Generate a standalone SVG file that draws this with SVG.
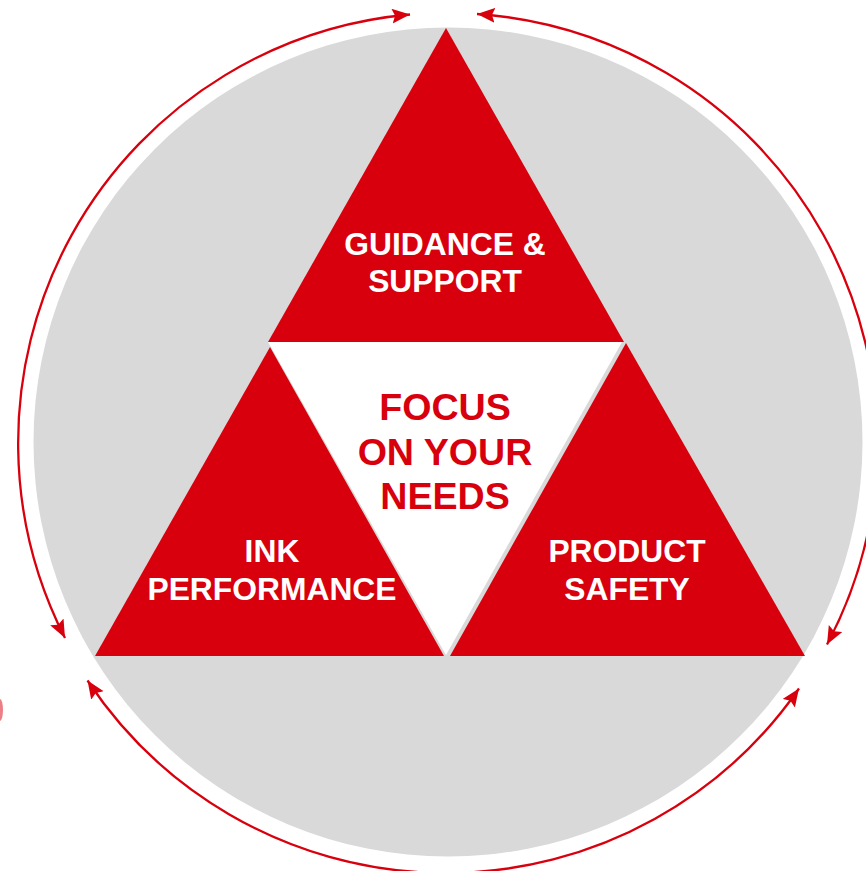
<svg xmlns="http://www.w3.org/2000/svg" width="866" height="871" viewBox="0 0 866 871">
  <style>
    .red { fill: #d9000d; }
    .lbl { font-family: "Liberation Sans", Arial, sans-serif; font-weight: bold; text-anchor: middle; }
    .white-lbl { fill: #ffffff; font-size: 31.8px; }
    .red-lbl { fill: #d9000d; font-size: 37.6px; }
    .arc { fill: none; stroke: #d9000d; stroke-width: 2.3; marker-start: url(#ah); marker-end: url(#ah); }
  </style>
  <defs>
    <marker id="ah" markerUnits="userSpaceOnUse" markerWidth="20" markerHeight="16" refX="18" refY="7.5" orient="auto-start-reverse" viewBox="0 0 20 16">
      <path d="M0,0 L18,7.5 L0,15 L3,7.5 z" fill="#d9000d"/>
    </marker>
  </defs>
  <rect width="866" height="871" fill="#ffffff"/>
  <g id="background">
    <circle cx="448" cy="442" r="414.5" fill="#d9d9d9"/>
    <ellipse cx="0" cy="710" rx="3" ry="11" fill="#d9000d" opacity="0.5"/>
  </g>
  <g id="connectors">
    <path class="arc" d="M65,638 A430,430 0 0 1 410,14.5"/>
    <path class="arc" d="M477,14 A430,430 0 0 1 827,644.5"/>
    <path class="arc" d="M799,688.5 A430,430 0 0 1 87.5,680.5"/>
  </g>
  <g id="guidance-support">
    <polygon class="red" points="446,28 624,342 268,342"/>
    <text class="lbl white-lbl" x="445" y="255">GUIDANCE &amp;</text>
    <text class="lbl white-lbl" x="445" y="292">SUPPORT</text>
  </g>
  <g id="focus">
    <polygon fill="#ffffff" points="268,342 622,342 446,655"/>
    <text class="lbl red-lbl" x="445" y="420">FOCUS</text>
    <text class="lbl red-lbl" x="445" y="465">ON YOUR</text>
    <text class="lbl red-lbl" x="445" y="509">NEEDS</text>
  </g>
  <g id="ink-performance">
    <polygon class="red" points="270,347 444,656 95,656"/>
    <text class="lbl white-lbl" x="272" y="562">INK</text>
    <text class="lbl white-lbl" x="272" y="600">PERFORMANCE</text>
  </g>
  <g id="product-safety">
    <polygon class="red" points="626,343 805,656 450,656"/>
    <text class="lbl white-lbl" x="627" y="562">PRODUCT</text>
    <text class="lbl white-lbl" x="627" y="600">SAFETY</text>
  </g>
</svg>
